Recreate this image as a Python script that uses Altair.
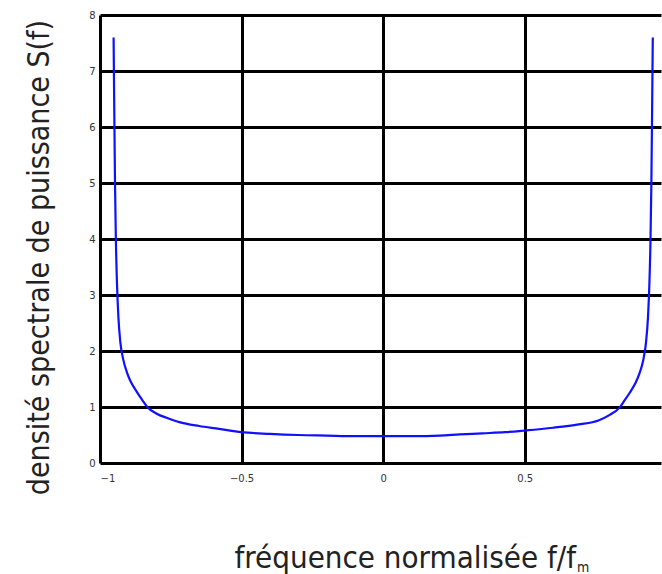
import altair as alt
import pandas as pd

# Normalised frequency f/fm and the power spectral density S(f)
freq = [-0.952, -0.950, -0.947, -0.944, -0.940, -0.935, -0.928, -0.918, -0.905,
        -0.893, -0.87, -0.85, -0.833, -0.80, -0.76, -0.72, -0.65, -0.58, -0.50,
        -0.40, -0.30, -0.20, -0.10, 0.0, 0.10, 0.20, 0.27, 0.35, 0.43, 0.50,
        0.60, 0.69, 0.76, 0.80, 0.833, 0.85, 0.87, 0.893, 0.905, 0.918,
        0.928, 0.935, 0.940, 0.944, 0.947, 0.950, 0.952]
psd = [7.6, 6.5, 5.0, 4.0, 3.2, 2.6, 2.15, 1.85, 1.62,
       1.47, 1.27, 1.12, 1.0, 0.88, 0.80, 0.73, 0.66, 0.61, 0.55,
       0.52, 0.50, 0.49, 0.48, 0.48, 0.48, 0.49, 0.51, 0.53, 0.55, 0.58,
       0.63, 0.69, 0.76, 0.86, 0.98, 1.1, 1.25, 1.45, 1.6, 1.83,
       2.15, 2.6, 3.2, 4.0, 5.0, 6.5, 7.6]

x_ticks = [-1, -0.5, 0, 0.5]
y_ticks = [0, 1, 2, 3, 4, 5, 6, 7, 8]

x_title = "fréquence normalisée f/f"
x_title_sub = "m"
y_title = "densité spectrale de puissance S(f)"

df = pd.DataFrame({"f": freq, "S": psd})

FONT = "DejaVu Sans Condensed, Liberation Sans Narrow, DejaVu Sans"

x_enc = alt.X(
    "f:Q",
    scale=alt.Scale(domain=[-1, 0.981], nice=False, zero=False),
    axis=alt.Axis(values=x_ticks, format="~g", title=None, domain=False,
                  ticks=False, grid=True, gridColor="black", gridWidth=3,
                  gridOpacity=1, labelPadding=10, labelFontSize=10,
                  labelColor="#333", labelFont="DejaVu Sans"),
)
y_enc = alt.Y(
    "S:Q",
    scale=alt.Scale(domain=[0, 8], nice=False),
    axis=alt.Axis(values=y_ticks, title=y_title, domain=False, ticks=False,
                  grid=True, gridColor="black", gridWidth=3, gridOpacity=1,
                  labelPadding=5, labelFontSize=10, labelColor="#333",
                  labelFont="DejaVu Sans",
                  titleFont=FONT, titleFontSize=30, titleFontWeight="normal",
                  titleColor="#222", titleX=-52, titleY=242,
                  titleAngle=270, titleAlign="center",
                  titleBaseline="alphabetic"),
)

curve = alt.Chart(df).mark_line(color="#1010ff", strokeWidth=2.2,
                                interpolate="monotone").encode(x=x_enc, y=y_enc)

title_main = alt.Chart(pd.DataFrame({"t": [x_title]})).mark_text(
    font=FONT, fontSize=31, color="#222", align="right", baseline="alphabetic"
).encode(x=alt.value(476), y=alt.value(553), text="t:N")

title_sub = alt.Chart(pd.DataFrame({"t": [x_title_sub]})).mark_text(
    font=FONT, fontSize=14, color="#222", align="left", baseline="alphabetic"
).encode(x=alt.value(477), y=alt.value(557), text="t:N")

chart = (
    alt.layer(curve, title_main, title_sub)
    .properties(
        width=561,
        height=448,
        autosize=alt.AutoSizeParams(type="none"),
        padding={"left": 100, "top": 15, "right": 1, "bottom": 111},
        background="white",
    )
    .configure_view(stroke=None)
)

chart.save("out.html", embed_options={"renderer": "svg", "actions": False})
